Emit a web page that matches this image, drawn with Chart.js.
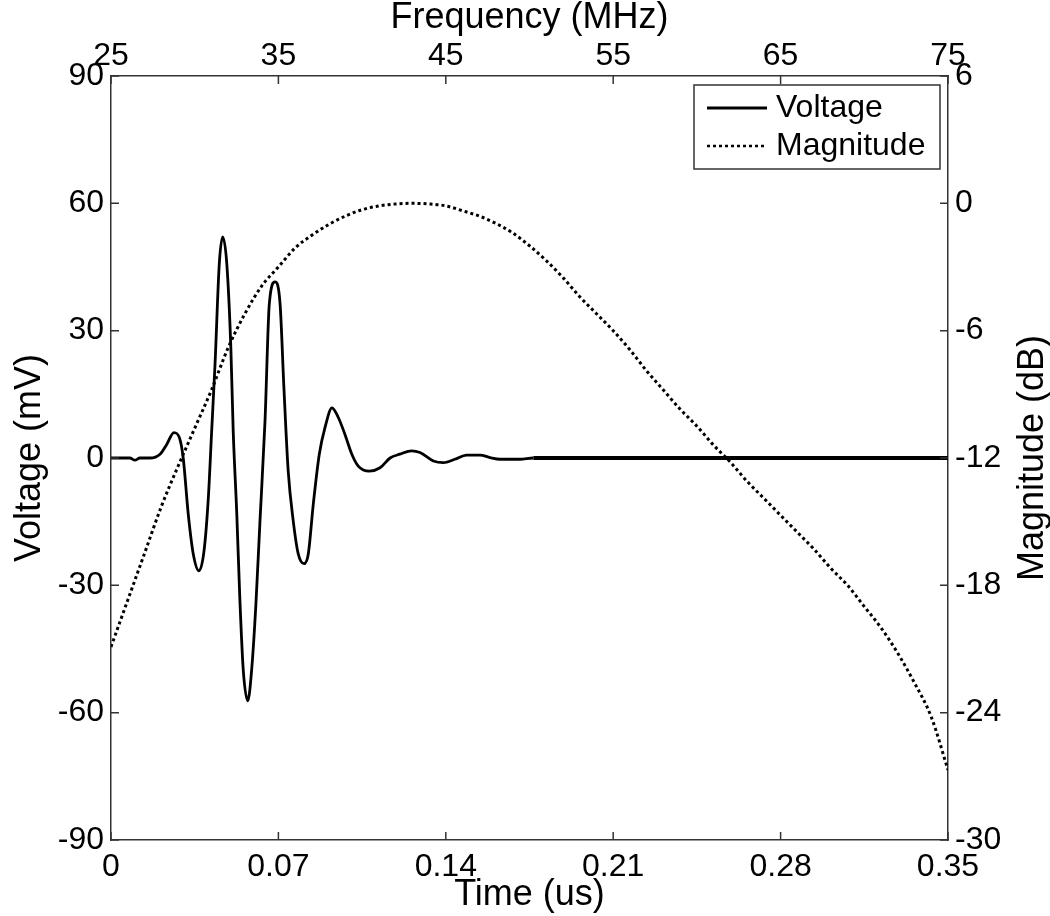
<!DOCTYPE html>
<html>
<head>
<meta charset="utf-8">
<script src="https://cdn.jsdelivr.net/npm/chart.js@4"></script>
<style>
  body { margin: 0; background: #fff; }
  #wrap { width: 1050px; height: 916px; position: relative; }
</style>
</head>
<body>
<div id="wrap"><canvas id="chart"></canvas></div>
<script>
// Time signal (bottom / left axes)
const timeUs = [0, 0.0079, 0.0100, 0.0121, 0.0163, 0.0205, 0.0233, 0.0263, 0.0286, 0.0302,
  0.0323, 0.0344, 0.0368, 0.0389, 0.0407, 0.0421, 0.0435, 0.0453, 0.0467, 0.0484,
  0.0501, 0.0511, 0.0526, 0.0539, 0.0553, 0.0572, 0.0588, 0.0606, 0.0623, 0.0644,
  0.0662, 0.0686, 0.0707, 0.0723, 0.0741, 0.0762, 0.0783, 0.0807, 0.0825, 0.0846,
  0.0871, 0.0895, 0.0924, 0.0950, 0.0978, 0.1007, 0.1034, 0.1080, 0.1125, 0.1167,
  0.1208, 0.1257, 0.1292, 0.1348, 0.1390, 0.1438, 0.1487, 0.1543, 0.1585, 0.1627,
  0.1710, 0.1766, 0.21, 0.28, 0.35];
const voltageMv = [0, 0, -0.5, 0, 0, 0.9, 3.2, 6.0, 4.8, 0,
  -13.2, -22.6, -26.6, -21.9, -9.4, 6.4, 22.1, 45.9, 52.1, 45.9,
  26.2, 6.4, -13.2, -33.5, -49.9, -57.2, -50, -34.4, -14.8, 8.7,
  36.3, 41.5, 36.3, 16.6, -3.1, -14.8, -22.6, -24.9, -22.6, -10.8,
  0.9, 7.2, 11.8, 9.6, 5.6, 0.9, -1.9, -3.1, -2.3, 0,
  0.9, 1.7, 1.3, -0.7, -1.1, -0.3, 0.7, 0.7, 0.1, -0.3,
  -0.3, 0, 0, 0, 0];
const tailStartUs = 0.1766;

// Spectrum (top / right axes)
const freqMHz = [25, 26, 27, 28, 29, 30, 31, 32, 33, 34, 35, 36, 37, 38, 39, 40, 41, 42, 43, 44,
  45, 46, 47, 48, 49, 50, 51, 52, 53, 54, 55, 56, 57, 58, 59, 60, 61, 62, 63, 64,
  65, 66, 67, 68, 69, 70, 71, 72, 73, 74, 75];
const magnitudeDb = [-20.9, -18.7, -16.5, -14.3, -12.4, -10.6, -8.8, -6.8, -5.2, -3.9,
  -3.0, -2.1, -1.5, -1.0, -0.6, -0.3, -0.12, -0.03, 0.0, -0.03,
  -0.12, -0.35, -0.6, -0.95, -1.4, -2.0, -2.7, -3.5, -4.4, -5.2,
  -6.0, -6.9, -7.9, -8.8, -9.7, -10.5, -11.4, -12.2, -13.1, -13.9,
  -14.7, -15.5, -16.3, -17.2, -18.0, -19.0, -20.0, -21.2, -22.6, -24.2,
  -26.7];

const timeTicks = [0, 0.07, 0.14, 0.21, 0.28, 0.35];
const voltTicks = [-90, -60, -30, 0, 30, 60, 90];
const freqTicks = [25, 35, 45, 55, 65, 75];
const magTicks = [-30, -24, -18, -12, -6, 0, 6];

const FONT = "'Liberation Sans', Arial, sans-serif";
const INK = '#000';
const FRAME = '#333';

function fixedTicks(list) {
    return scale => { scale.ticks = list.map(v => ({ value: v })); };
}
function fmt(v) { return String(+Number(v).toFixed(2)); }

// inward tick marks, matlab style
const innerTicks = {
    id: 'innerTicks',
    afterDatasetsDraw(chart) {
        const { ctx, chartArea: a, scales } = chart;
        const len = 8;
        ctx.save();
        ctx.strokeStyle = FRAME;
        ctx.lineWidth = 1.5;
        ctx.beginPath();
        scales.x.ticks.forEach(t => {
            const px = scales.x.getPixelForValue(t.value);
            ctx.moveTo(px, a.bottom); ctx.lineTo(px, a.bottom - len);
        });
        scales.x2.ticks.forEach(t => {
            const px = scales.x2.getPixelForValue(t.value);
            ctx.moveTo(px, a.top); ctx.lineTo(px, a.top + len);
        });
        scales.y.ticks.forEach(t => {
            const py = scales.y.getPixelForValue(t.value);
            ctx.moveTo(a.left, py); ctx.lineTo(a.left + len, py);
        });
        scales.y2.ticks.forEach(t => {
            const py = scales.y2.getPixelForValue(t.value);
            ctx.moveTo(a.right, py); ctx.lineTo(a.right - len, py);
        });
        ctx.stroke();
        ctx.restore();
    }
};

// legend box inside the plot + right axis title read bottom-to-top
const boxLegend = {
    id: 'boxLegend',
    afterDraw(chart) {
        const { ctx, chartArea: a } = chart;
        const x0 = a.right - 254, y0 = a.top + 9, w = 246, h = 84;
        ctx.save();
        ctx.fillStyle = '#fff';
        ctx.fillRect(x0, y0, w, h);
        ctx.strokeStyle = FRAME;
        ctx.lineWidth = 1.5;
        ctx.strokeRect(x0, y0, w, h);
        ctx.font = '32px ' + FONT;
        ctx.textBaseline = 'middle';
        chart.data.datasets.forEach((ds, i) => {
            const yy = y0 + 23 + i * 38;
            ctx.beginPath();
            ctx.strokeStyle = ds.borderColor;
            ctx.lineWidth = i === 0 ? 3 : 2.5;
            ctx.setLineDash(ds.borderDash || []);
            ctx.moveTo(x0 + 13, yy);
            ctx.lineTo(x0 + 73, yy);
            ctx.stroke();
            ctx.setLineDash([]);
            ctx.fillStyle = INK;
            ctx.fillText(ds.label, x0 + 82, yy);
        });
        // right axis title
        ctx.translate(1033, (a.top + a.bottom) / 2);
        ctx.rotate(-Math.PI / 2);
        ctx.textAlign = 'center';
        ctx.font = '36px ' + FONT;
        ctx.fillStyle = INK;
        ctx.fillText('Magnitude (dB)', 0, 0);
        ctx.restore();
    }
};

const tickFont = { family: FONT, size: 32 };
const titleFont = { family: FONT, size: 36, lineHeight: 1 };

new Chart(document.getElementById('chart'), {
    type: 'line',
    data: {
        datasets: [{
            label: 'Voltage',
            data: timeUs.map((t, i) => ({ x: t, y: voltageMv[i] })),
            xAxisID: 'x',
            yAxisID: 'y',
            borderColor: INK,
            borderWidth: 2.8,
            pointRadius: 0,
            cubicInterpolationMode: 'monotone',
            segment: {
                borderWidth: c => c.p0.parsed.x >= tailStartUs ? 4 : 2.8
            }
        }, {
            label: 'Magnitude',
            data: freqMHz.map((f, i) => ({ x: f, y: magnitudeDb[i] })),
            xAxisID: 'x2',
            yAxisID: 'y2',
            borderColor: INK,
            borderWidth: 3,
            borderDash: [3, 3],
            borderCapStyle: 'butt',
            pointRadius: 0,
            cubicInterpolationMode: 'monotone'
        }]
    },
    options: {
        responsive: true,
        maintainAspectRatio: false,
        animation: false,
        layout: { padding: 0 },
        plugins: { legend: { display: false }, tooltip: { enabled: false } },
        scales: {
            x: {
                type: 'linear', position: 'bottom', min: 0, max: 0.35,
                afterBuildTicks: fixedTicks(timeTicks),
                afterFit: s => { s.height = 76; },
                grid: { drawOnChartArea: false, drawTicks: false },
                border: { color: FRAME, width: 1.5 },
                ticks: { color: INK, font: tickFont, padding: 8, maxRotation: 0, callback: fmt },
                title: { display: true, text: 'Time (us)', color: INK, font: titleFont, padding: { top: 0, bottom: 3 } }
            },
            x2: {
                type: 'linear', position: 'top', min: 25, max: 75,
                afterBuildTicks: fixedTicks(freqTicks),
                afterFit: s => { s.height = 76; },
                grid: { drawOnChartArea: false, drawTicks: false },
                border: { color: FRAME, width: 1.5 },
                ticks: { color: INK, font: tickFont, padding: 1, maxRotation: 0, callback: fmt },
                title: { display: true, text: 'Frequency (MHz)', color: INK, font: titleFont, padding: { top: 0, bottom: 0 } }
            },
            y: {
                type: 'linear', position: 'left', min: -90, max: 90,
                afterBuildTicks: fixedTicks(voltTicks),
                afterFit: s => { s.width = 111; },
                grid: { drawOnChartArea: false, drawTicks: false },
                border: { color: FRAME, width: 1.5 },
                ticks: { color: INK, font: tickFont, padding: 7, callback: fmt },
                title: { display: true, text: 'Voltage (mV)', color: INK, font: titleFont, padding: { top: 12, bottom: 0 } }
            },
            y2: {
                type: 'linear', position: 'right', min: -30, max: 6,
                afterBuildTicks: fixedTicks(magTicks),
                afterFit: s => { s.width = 102; },
                grid: { drawOnChartArea: false, drawTicks: false },
                border: { color: FRAME, width: 1.5 },
                ticks: { color: INK, font: tickFont, padding: 7, callback: fmt }
            }
        }
    },
    plugins: [innerTicks, boxLegend]
});
</script>
</body>
</html>
